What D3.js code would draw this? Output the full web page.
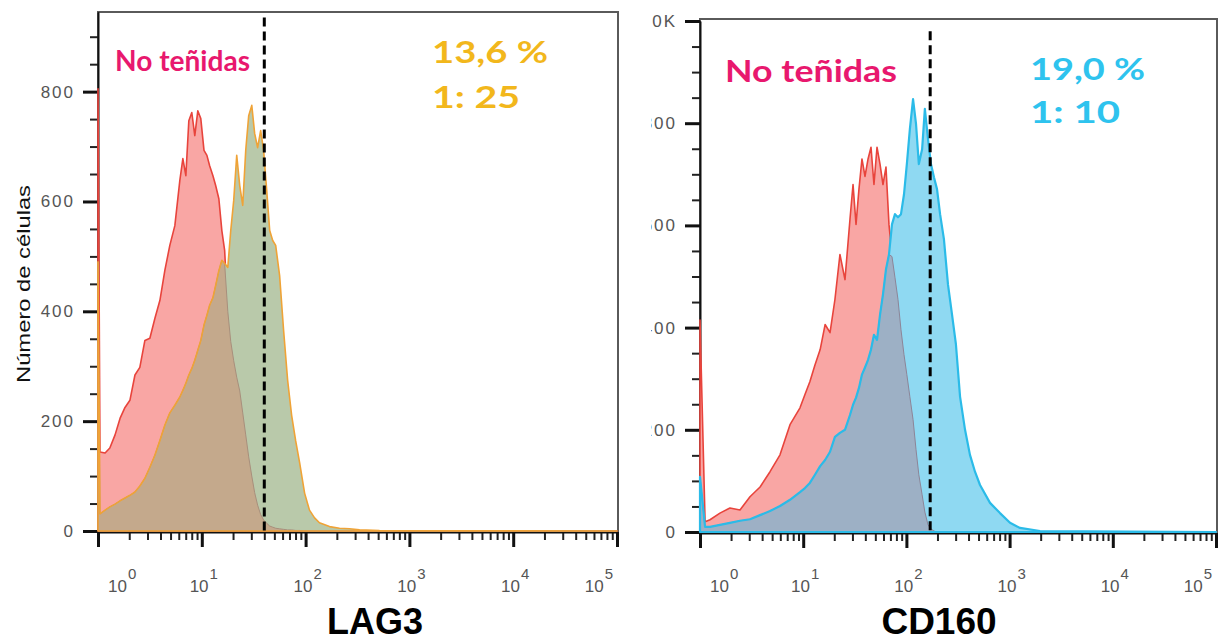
<!DOCTYPE html>
<html>
<head>
<meta charset="utf-8">
<script src="https://cdn.jsdelivr.net/npm/d3@7"></script>
<style>
  body { margin: 0; background: #fff; }
  svg { display: block; }
</style>
</head>
<body>
<div id="chart-area"></div>
<script>
const WIDTH = 1225;
const HEIGHT = 642;

// LAG3 panel: channel value of each histogram bin and cell counts
const lag3Channel = [1, 1.045, 1.17, 1.30, 1.46, 1.63, 1.82, 2.03, 2.27, 2.53,
  2.83, 3.16, 3.53, 3.95, 4.41, 4.92, 5.50, 6.14, 6.57, 7.02,
  7.50, 8.01, 8.56, 9.15, 9.78, 10.5, 11.2, 11.9, 12.8, 13.6,
  14.6, 15.6, 16.6, 17.8, 19.0, 20.3, 21.7, 23.2, 24.8, 26.5,
  28.3, 30.3, 32.3, 34.5, 36.9, 39.4, 42.2, 45.1, 48.2, 51.5,
  56.2, 61.4, 67.1, 73.3, 80.1, 87.5, 97.8, 109, 122, 136,
  170, 212, 265, 331, 515, 100000];
const lag3Unstained = [805, 144, 142, 151, 175, 205, 225, 238, 284, 298,
  347, 351, 387, 420, 475, 520, 556, 638, 678, 647,
  747, 762, 720, 765, 751, 693, 684, 665, 647, 629,
  605, 547, 511, 400, 345, 310, 280, 255, 215, 175,
  135, 100, 70, 47, 30, 20, 14, 9, 7, 5,
  4, 3, 2, 2, 1, 1, 0, 0, 0, 0,
  0, 0, 0, 0, 0, 0];
const lag3Stained = [490, 31, 38, 44, 49, 55, 60, 65, 71, 82,
  96, 116, 138, 165, 193, 215, 229, 244, 256, 269,
  284, 296, 311, 329, 347, 375, 393, 411, 425, 447,
  474, 493, 487, 480, 547, 602, 684, 629, 593, 693,
  756, 775, 724, 698, 729, 693, 620, 547, 529, 520,
  465, 365, 275, 211, 165, 125, 69, 38, 24, 15,
  8, 5, 4, 2, 1, 0];
const lag3Gate = 40;

// CD160 panel
const cd160Channel = [1, 1.12, 1.25, 1.56, 1.95, 2.44, 3.05, 3.82, 4.77, 5.96,
  7.45, 9.31, 10.4, 11.6, 13.0, 14.6, 16.3, 18.2, 20.3, 22.7,
  25.4, 28.4, 30.4, 32.5, 34.7, 37.1, 39.7, 42.5, 45.4, 48.5,
  51.9, 55.5, 59.3, 63.4, 67.8, 72.5, 77.5, 82.9, 88.6, 94.8,
  101, 108, 116, 124, 132, 142, 151, 162, 173, 185,
  198, 212, 231, 253, 277, 302, 331, 370, 413, 462,
  517, 646, 807, 1009, 1261, 1971, 100000];
const cd160Unstained = [415, 20, 24, 37, 47, 43, 69, 88, 118, 151,
  210, 243, 269, 294, 327, 357, 406, 390, 455, 543,
  494, 612, 680, 602, 671, 730, 696, 730, 753, 680,
  753, 720, 680, 714, 602, 539, 498, 455, 396, 347,
  308, 265, 220, 161, 112, 73, 39, 14, 6, 2,
  0, 0, 0, 0, 0, 0, 0, 0, 0, 0,
  0, 0, 0, 0, 0, 0, 0];
const cd160Stained = [108, 10, 10, 14, 18, 22, 25, 33, 41, 51,
  63, 78, 86, 96, 112, 129, 141, 157, 186, 194,
  200, 229, 249, 263, 282, 308, 322, 337, 357, 386,
  376, 425, 465, 514, 543, 602, 622, 616, 622, 661,
  720, 788, 847, 798, 720, 749, 828, 769, 720, 694,
  671, 622, 573, 484, 425, 367, 265, 200, 151, 118,
  92, 57, 37, 18, 8, 2, 0];
const cd160Gate = 170;

// ticks
const xMajorTicks = [1, 10, 100, 1000, 10000, 100000];
const xMinorTicks = xMajorTicks.slice(0, -1)
  .flatMap(d => [2, 3, 4, 5, 6, 7, 8, 9].map(k => k * d));
const lag3YTicks = [0, 200, 400, 600, 800];
const lag3YMinor = [50, 100, 150, 250, 300, 350, 450, 500, 550, 650, 700, 750, 850, 900];
const cd160YTicks = [0, 200, 400, 600, 800, 1000];
const cd160YMinor = [50, 100, 150, 250, 300, 350, 450, 500, 550, 650, 700, 750, 850, 900, 950];

const svg = d3.select('#chart-area').append('svg')
  .attr('width', WIDTH)
  .attr('height', HEIGHT)
  .style('background', '#fff');

const panels = [{
  name: 'LAG3', left: 98, right: 617, top: 12, bottom: 531, frameTop: 12, yMax: 945,
  channel: lag3Channel, unstained: lag3Unstained, stained: lag3Stained, gate: lag3Gate,
  yTicks: lag3YTicks, yMinor: lag3YMinor, yFmt: d => d,
  unFill: '#f9a6a4', unStroke: '#e8443c',
  stFill: '#b9c9aa', stStroke: '#efa337', overFill: '#c4a98c', overStroke: '#a88f7c', stWidth: 1.6,
  gateTop: 935,
  label: { x: 115, y: 71, size: 28, len: 135 },
  pct: '13,6 %', dil: '1: 25', pctColor: '#f2b71c',
  pctPos: { x: 432, y: 63, y2: 108, len: 116, len2: 88 },
  titleX: 375, titleSize: 36
}, {
  name: 'CD160', left: 700, right: 1216, top: 21, bottom: 532, frameTop: 19, yMax: 1000,
  channel: cd160Channel, unstained: cd160Unstained, stained: cd160Stained, gate: cd160Gate,
  yTicks: cd160YTicks, yMinor: cd160YMinor, yFmt: d => d === 1000 ? '1.0K' : d,
  unFill: '#f9a6a4', unStroke: '#e8443c',
  stFill: '#8fd9f2', stStroke: '#2bbbe8', overFill: '#9db0c5', overStroke: '#8c8598', stWidth: 2.2,
  gateTop: 980,
  label: { x: 725, y: 82, size: 31, len: 172 },
  pct: '19,0 %', dil: '1: 10', pctColor: '#2ec3ee',
  pctPos: { x: 1030, y: 80, y2: 123, len: 115, len2: 90 },
  titleX: 939, titleSize: 37,
  clipLabels: 651
}];

panels.forEach(drawPanel);

// y axis title (left panel only)
svg.append('text')
  .attr('transform', 'translate(30,284) rotate(-90)')
  .attr('text-anchor', 'middle')
  .attr('font-family', 'Liberation Sans, Arial, sans-serif')
  .attr('font-size', 18)
  .attr('fill', '#111')
  .attr('textLength', 198)
  .attr('lengthAdjust', 'spacingAndGlyphs')
  .text('Número de células');

function drawPanel(p, idx) {
  const x = d3.scaleLog().domain([1, 100000]).range([p.left, p.right]);
  const y = d3.scaleLinear().domain([0, p.yMax]).range([p.bottom, p.top]);
  const rows = p.channel.map((c, i) => ({ c: c, u: p.unstained[i], s: p.stained[i] }));

  const g = svg.append('g');

  // frame
  g.append('rect')
    .attr('x', p.left)
    .attr('y', p.frameTop)
    .attr('width', p.right - p.left + 1)
    .attr('height', p.bottom - p.frameTop + 1)
    .attr('fill', '#fff')
    .attr('stroke', '#5a5a5a')
    .attr('stroke-width', 2);

  // y axis
  const yAxisG = g.append('g').attr('transform', `translate(${p.left},0)`);
  if (p.clipLabels) {
    svg.append('clipPath').attr('id', 'clip' + idx)
      .append('rect').attr('x', p.clipLabels - p.left).attr('y', 0)
      .attr('width', p.left - p.clipLabels + 20).attr('height', HEIGHT);
    yAxisG.attr('clip-path', `url(#clip${idx})`);
  }
  yAxisG.call(d3.axisLeft(y).tickValues(p.yMinor).tickSize(8).tickSizeOuter(0).tickFormat(''))
    .call(a => a.selectAll('.tick line').attr('stroke', '#222').attr('stroke-width', 2));
  yAxisG.append('g')
    .call(d3.axisLeft(y).tickValues(p.yTicks).tickSize(15).tickSizeOuter(0).tickPadding(8).tickFormat(p.yFmt))
    .call(a => a.select('.domain').attr('stroke', '#111').attr('stroke-width', 2))
    .call(a => a.selectAll('.tick line').attr('stroke', '#111').attr('stroke-width', 3))
    .call(a => a.selectAll('.tick text')
      .attr('font-family', 'Liberation Sans, Arial, sans-serif')
      .attr('font-size', 17)
      .attr('letter-spacing', 2)
      .attr('fill', '#555'));

  // x axis
  const xAxisG = g.append('g').attr('transform', `translate(0,${p.bottom + 1})`);
  xAxisG.call(d3.axisBottom(x).tickValues(xMinorTicks).tickSize(8).tickSizeOuter(0).tickFormat(''))
    .call(a => a.selectAll('.tick line').attr('stroke', '#222').attr('stroke-width', 2));
  xAxisG.append('g')
    .call(d3.axisBottom(x).tickValues(xMajorTicks).tickSize(15).tickSizeOuter(0).tickFormat(''))
    .call(a => a.select('.domain').attr('stroke', '#111').attr('stroke-width', 2))
    .call(a => a.selectAll('.tick line').attr('stroke', '#111').attr('stroke-width', 3));

  xMajorTicks.forEach((t, i) => {
    let px = x(t) + 2, anchor = 'middle';
    if (i === 0) { px = x(t) + 10; anchor = 'start'; }
    if (i === xMajorTicks.length - 1) { px = x(t) - 4; anchor = 'end'; }
    const txt = g.append('text')
      .attr('x', px)
      .attr('y', 592)
      .attr('text-anchor', anchor)
      .attr('font-family', 'Liberation Sans, Arial, sans-serif')
      .attr('fill', '#555')
      .attr('font-size', 17);
    txt.append('tspan').text('10');
    txt.append('tspan').attr('dy', -13).attr('dx', 1).attr('font-size', 15).text(Math.round(Math.log10(t)));
  });

  // histograms
  const area = f => d3.area().x(d => x(d.c)).y0(y(0)).y1(d => y(f(d)));

  g.append('path').datum(rows)
    .attr('d', area(d => d.u))
    .attr('fill', p.unFill)
    .attr('stroke', p.unStroke)
    .attr('stroke-width', 1.6)
    .attr('stroke-linejoin', 'round');

  g.append('path').datum(rows)
    .attr('d', area(d => d.s))
    .attr('fill', p.stFill);

  g.append('path').datum(rows)
    .attr('d', area(d => Math.min(d.u, d.s)))
    .attr('fill', p.overFill)
    .attr('stroke', p.overStroke)
    .attr('stroke-width', 1);

  g.append('path').datum(rows)
    .attr('d', area(d => d.s))
    .attr('fill', 'none')
    .attr('stroke', p.stStroke)
    .attr('stroke-width', p.stWidth)
    .attr('stroke-linejoin', 'round');

  // gate
  g.append('line')
    .attr('x1', x(p.gate)).attr('x2', x(p.gate))
    .attr('y1', y(p.gateTop)).attr('y2', y(0))
    .attr('stroke', '#000')
    .attr('stroke-width', 3)
    .attr('stroke-dasharray', '9,5');

  // annotations
  g.append('text')
    .attr('x', p.label.x).attr('y', p.label.y)
    .attr('font-family', 'Lato, sans-serif')
    .attr('font-weight', 'bold')
    .attr('font-size', p.label.size)
    .attr('fill', '#e8186e')
    .attr('textLength', p.label.len)
    .attr('lengthAdjust', 'spacingAndGlyphs')
    .text('No teñidas');

  g.append('text')
    .attr('x', p.pctPos.x).attr('y', p.pctPos.y)
    .attr('font-family', 'Lato, sans-serif')
    .attr('font-weight', 'bold')
    .attr('font-size', 31)
    .attr('fill', p.pctColor)
    .attr('textLength', p.pctPos.len)
    .attr('lengthAdjust', 'spacingAndGlyphs')
    .text(p.pct);

  g.append('text')
    .attr('x', p.pctPos.x).attr('y', p.pctPos.y2)
    .attr('font-family', 'Lato, sans-serif')
    .attr('font-weight', 'bold')
    .attr('font-size', 31)
    .attr('fill', p.pctColor)
    .attr('textLength', p.pctPos.len2)
    .attr('lengthAdjust', 'spacingAndGlyphs')
    .text(p.dil);

  // axis title
  g.append('text')
    .attr('x', p.titleX).attr('y', 634)
    .attr('text-anchor', 'middle')
    .attr('font-family', 'Liberation Sans, Arial, sans-serif')
    .attr('font-weight', 'bold')
    .attr('font-size', p.titleSize)
    .attr('fill', '#000')
    .text(p.name);
}
</script>
</body>
</html>
